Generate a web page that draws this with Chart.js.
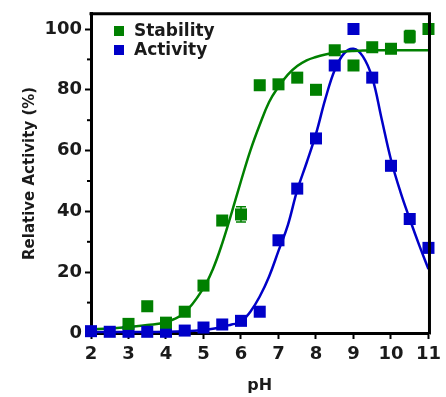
<!DOCTYPE html>
<html>
<head>
<meta charset="utf-8">
<script src="https://cdn.jsdelivr.net/npm/chart.js@4"></script>
<style>
  html, body { margin: 0; padding: 0; background: #fff; }
  #wrap { width: 446px; height: 397px; }
</style>
</head>
<body>
<div id="wrap"><canvas id="phChart"></canvas></div>
<script>
// measured points
const stabPH = [3, 3.5, 4, 4.5, 5, 5.5, 6, 6.5, 7, 7.5, 8, 8.5, 9, 9.5, 10, 10.5, 11];
const stabVal = [3.0, 8.8, 3.4, 7.0, 15.6, 37.0, 39.0, 81.5, 81.8, 84.0, 80.0, 93.0, 88.0, 94.0, 93.5, 97.5, 100];
const stabErr = [0, 0, 0, 0, 0, 1, 2.5, 1.5, 0, 0, 0, 0, 0, 0, 0, 2, 0];

const actPH = [2, 2.5, 3, 3.5, 4, 4.5, 5, 5.5, 6, 6.5, 7, 7.5, 8, 8.5, 9, 9.5, 10, 10.5, 11];
const actVal = [0.6, 0.4, 0.4, 0.4, 0.4, 0.8, 1.8, 2.8, 4.0, 7.0, 30.5, 47.5, 64.0, 88.0, 100, 84.0, 55.0, 37.5, 28.0];

// fitted curves
const fitPH = [2, 2.5, 3, 3.5, 4, 4.5, 5, 5.25, 5.5, 5.75, 6, 6.25, 6.5, 6.75, 7, 7.25, 7.5, 7.75, 8, 8.25, 8.5, 8.75, 9, 9.25, 9.5, 9.75, 10, 10.25, 10.5, 10.75, 11];
const stabFit = [1.2, 1.5, 2.0, 2.6, 3.6, 6.8, 14.8, 21, 29.5, 39.5, 50, 60, 68.5, 76, 81, 85, 87.8, 89.7, 90.8, 91.6, 92.2, 92.6, 92.8, 92.9, 93, 93, 93, 93, 93, 93, 93];
const actFit = [0.3, 0.3, 0.3, 0.3, 0.4, 0.6, 1.0, 1.4, 2.0, 2.8, 3.6, 7.0, 12.0, 18.6, 27, 35.5, 47, 56, 65.5, 77, 86.5, 92, 93.5, 91, 84, 70.5, 57, 46.5, 37.5, 29, 21];

const xTicks = [2, 3, 4, 5, 6, 7, 8, 9, 10, 11];
const yTicks = [0, 20, 40, 60, 80, 100];
const yMinor = [10, 30, 50, 70, 90];

const GREEN = '#008000';
const BLUE = '#0000c8';
const FONT = 'DejaVu Sans';

function pts(xs, ys) {
  return xs.map((x, i) => ({ x: x, y: ys[i] }));
}

// frame, minor ticks, error bars and the legend
const extras = {
  id: 'extras',
  afterDatasetsDraw(chart) {
    const c = chart.ctx;
    const a = chart.chartArea;
    const xs = chart.scales.x, ys = chart.scales.y;
    c.save();
    // error bars
    chart.data.datasets.forEach(ds => {
      if (!ds.errors) return;
      c.strokeStyle = ds.backgroundColor;
      c.lineWidth = 1.5;
      ds.data.forEach((p, i) => {
        const e = ds.errors[i];
        if (!e) return;
        const px = xs.getPixelForValue(p.x);
        const top = ys.getPixelForValue(p.y + e);
        const bot = ys.getPixelForValue(p.y - e);
        c.beginPath();
        c.moveTo(px, top); c.lineTo(px, bot);
        c.moveTo(px - 5, top); c.lineTo(px + 5, top);
        c.moveTo(px - 5, bot); c.lineTo(px + 5, bot);
        c.stroke();
      });
    });
    // top + right frame
    c.strokeStyle = '#000';
    c.lineWidth = 3;
    c.beginPath();
    c.moveTo(a.left - 1.5, a.top);
    c.lineTo(a.right + 1, a.top);
    c.lineTo(a.right + 1, a.bottom + 1.5);
    c.stroke();
    // minor y ticks
    c.lineWidth = 2;
    yMinor.forEach(v => {
      const py = ys.getPixelForValue(v);
      c.beginPath();
      c.moveTo(a.left - 4, py);
      c.lineTo(a.left, py);
      c.stroke();
    });
    // legend
    c.font = 'bold 17px ' + FONT;
    c.textBaseline = 'middle';
    c.textAlign = 'left';
    [0, 1].forEach((di, k) => {
      const ds = chart.data.datasets[di];
      const y = 31 + k * 19;
      c.fillStyle = ds.backgroundColor;
      c.fillRect(114, y - 5, 10, 10);
      c.fillStyle = '#1a1a1a';
      c.fillText(ds.label, 134, y + 1);
    });
    c.restore();
  }
};

const ctx = document.getElementById('phChart').getContext('2d');
new Chart(ctx, {
  type: 'scatter',
  data: {
    datasets: [
      {
        label: 'Stability',
        data: pts(stabPH, stabVal),
        errors: stabErr,
        backgroundColor: GREEN,
        borderColor: GREEN,
        pointStyle: 'rect',
        pointRadius: 8.5,
        borderWidth: 0,
        clip: false,
        order: 0
      },
      {
        label: 'Activity',
        data: pts(actPH, actVal),
        backgroundColor: BLUE,
        borderColor: BLUE,
        pointStyle: 'rect',
        pointRadius: 8.5,
        borderWidth: 0,
        clip: false,
        order: 0
      },
      {
        label: 'Stability fit',
        data: pts(fitPH, stabFit),
        showLine: true,
        borderColor: GREEN,
        backgroundColor: GREEN,
        borderWidth: 2.5,
        pointRadius: 0,
        tension: 0.4,
        clip: false,
        order: 1
      },
      {
        label: 'Activity fit',
        data: pts(fitPH, actFit),
        showLine: true,
        borderColor: BLUE,
        backgroundColor: BLUE,
        borderWidth: 2.5,
        pointRadius: 0,
        tension: 0.4,
        clip: false,
        order: 1
      }
    ]
  },
  options: {
    responsive: true,
    maintainAspectRatio: false,
    animation: false,
    layout: { padding: { top: 6, right: 12, left: 0, bottom: 0 } },
    plugins: {
      legend: { display: false },
      tooltip: { enabled: false }
    },
    scales: {
      x: {
        type: 'linear',
        min: 2,
        max: 11,
        afterBuildTicks: s => { s.ticks = xTicks.map(v => ({ value: v })); },
        afterFit: s => { s.height = 64; },
        border: { color: '#000', width: 3 },
        grid: { drawOnChartArea: false, tickLength: 6, tickWidth: 2, tickColor: '#000' },
        ticks: {
          color: '#1a1a1a',
          padding: 5,
          maxRotation: 0,
          autoSkip: false,
          font: { family: FONT, size: 18, weight: 'bold' }
        },
        title: {
          display: true,
          text: 'pH',
          color: '#1a1a1a',
          padding: { top: 0, bottom: 2 },
          font: { family: FONT, size: 16, weight: 'bold' }
        }
      },
      y: {
        min: 0,
        max: 105,
        afterBuildTicks: s => { s.ticks = yTicks.map(v => ({ value: v })); },
        afterFit: s => { s.width = 91; },
        border: { color: '#000', width: 3 },
        grid: { drawOnChartArea: false, tickLength: 6, tickWidth: 2, tickColor: '#000' },
        ticks: {
          color: '#1a1a1a',
          padding: 3,
          font: { family: FONT, size: 18, weight: 'bold' }
        },
        title: {
          display: true,
          text: 'Relative Activity (%)',
          color: '#1a1a1a',
          padding: { top: 21, bottom: 0 },
          font: { family: FONT, size: 15, weight: 'bold' }
        }
      }
    }
  },
  plugins: [extras]
});
</script>
</body>
</html>
